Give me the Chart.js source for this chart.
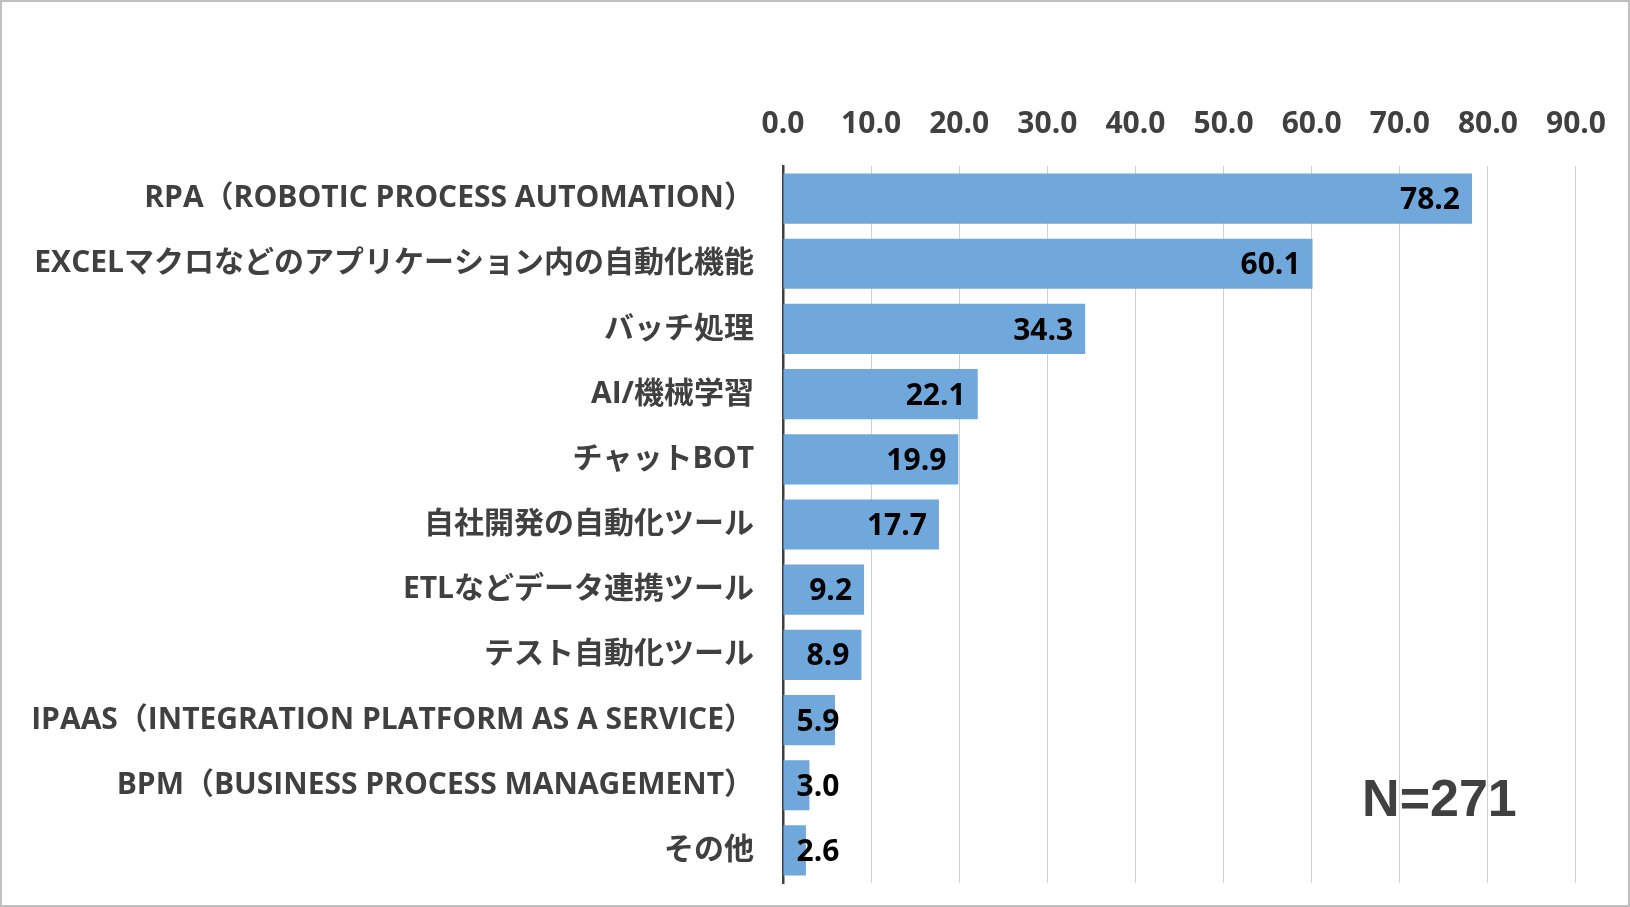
<!DOCTYPE html>
<html lang="ja">
<head>
<meta charset="utf-8">
<title>業務自動化で利用している技術・ツール</title>
<script src="https://cdn.jsdelivr.net/npm/chart.js@4.4.1/dist/chart.umd.min.js"></script>
<style>
  html, body { margin: 0; padding: 0; background: #fff; }
  #wrap { position: relative; width: 1630px; height: 907px; }
</style>
</head>
<body>
<div id="wrap"><canvas id="myChart"></canvas></div>
<script>
const categories = [
    'RPA（ROBOTIC PROCESS AUTOMATION）',
    'EXCELマクロなどのアプリケーション内の自動化機能',
    'バッチ処理',
    'AI/機械学習',
    'チャットBOT',
    '自社開発の自動化ツール',
    'ETLなどデータ連携ツール',
    'テスト自動化ツール',
    'IPAAS（INTEGRATION PLATFORM AS A SERVICE）',
    'BPM（BUSINESS PROCESS MANAGEMENT）',
    'その他'
];
const values = [78.2, 60.1, 34.3, 22.1, 19.9, 17.7, 9.2, 8.9, 5.9, 3.0, 2.6];
const xTicks = [0, 10, 20, 30, 40, 50, 60, 70, 80, 90];
const sampleNote = 'N=271';

const labelFont = { family: '"Open Sans", "Noto Sans CJK JP", sans-serif', size: 30, weight: 'bold' };
const textColor = '#404040';

// value labels at the inside end of each bar (pushed right for short bars)
const valueLabels = {
    id: 'valueLabels',
    afterDatasetsDraw(chart){
        const ctx = chart.ctx;
        const meta = chart.getDatasetMeta(0);
        ctx.save();
        ctx.font = 'bold 30px "Open Sans", "Noto Sans CJK JP", sans-serif';
        ctx.fillStyle = '#000';
        ctx.textAlign = 'right';
        ctx.textBaseline = 'middle';
        meta.data.forEach((bar, i) => {
            const txt = values[i].toFixed(1);
            const w = ctx.measureText(txt).width;
            const right = Math.max(bar.x - 12, bar.base + 13 + w);
            ctx.fillText(txt, right, bar.y + 2);
        });
        ctx.restore();
    }
};

// sample size note and outer frame
const notePlugin = {
    id: 'notePlugin',
    afterDraw(chart){
        const ctx = chart.ctx;
        const x = chart.scales.x.getPixelForValue(74.5);
        const y = chart.scales.y.getPixelForValue(9.25);
        ctx.save();
        ctx.font = 'bold 52px "Liberation Sans", Arial, sans-serif';
        ctx.fillStyle = textColor;
        ctx.textAlign = 'center';
        ctx.textBaseline = 'middle';
        ctx.fillText(sampleNote, x, y);
        ctx.strokeStyle = '#bfbfbf';
        ctx.lineWidth = 2;
        ctx.strokeRect(1, 1, chart.width - 2, chart.height - 2);
        ctx.restore();
    }
};

const ctx = document.getElementById('myChart');
new Chart(ctx, {
    type: 'bar',
    data: {
        labels: categories,
        datasets: [{
            data: values,
            backgroundColor: '#70a8db',
            borderWidth: 0,
            categoryPercentage: 1,
            barPercentage: 0.77
        }]
    },
    options: {
        indexAxis: 'y',
        responsive: true,
        maintainAspectRatio: false,
        animation: false,
        layout: { padding: { top: 0, right: 53, bottom: 24, left: 0 } },
        plugins: {
            legend: { display: false },
            tooltip: { enabled: false }
        },
        scales: {
            x: {
                position: 'top',
                min: xTicks[0],
                max: xTicks[xTicks.length - 1],
                afterBuildTicks: s => { s.ticks = xTicks.map(v => ({ value: v })); },
                afterFit: s => { s.height = 166; },
                grid: { color: '#d0d0d0', lineWidth: 1, drawTicks: false },
                border: { display: false },
                ticks: {
                    font: labelFont,
                    color: textColor,
                    padding: 24,
                    callback: v => Number(v).toFixed(1)
                }
            },
            y: {
                afterFit: s => {
                    s.width = 783;
                    s.paddingTop = 0;
                    s.paddingBottom = 0;
                },
                grid: { display: false, drawTicks: false },
                border: { display: true, color: textColor, width: 2.5 },
                ticks: {
                    font: labelFont,
                    color: textColor,
                    padding: 29,
                    autoSkip: false
                }
            }
        }
    },
    plugins: [valueLabels, notePlugin]
});
</script>
</body>
</html>
